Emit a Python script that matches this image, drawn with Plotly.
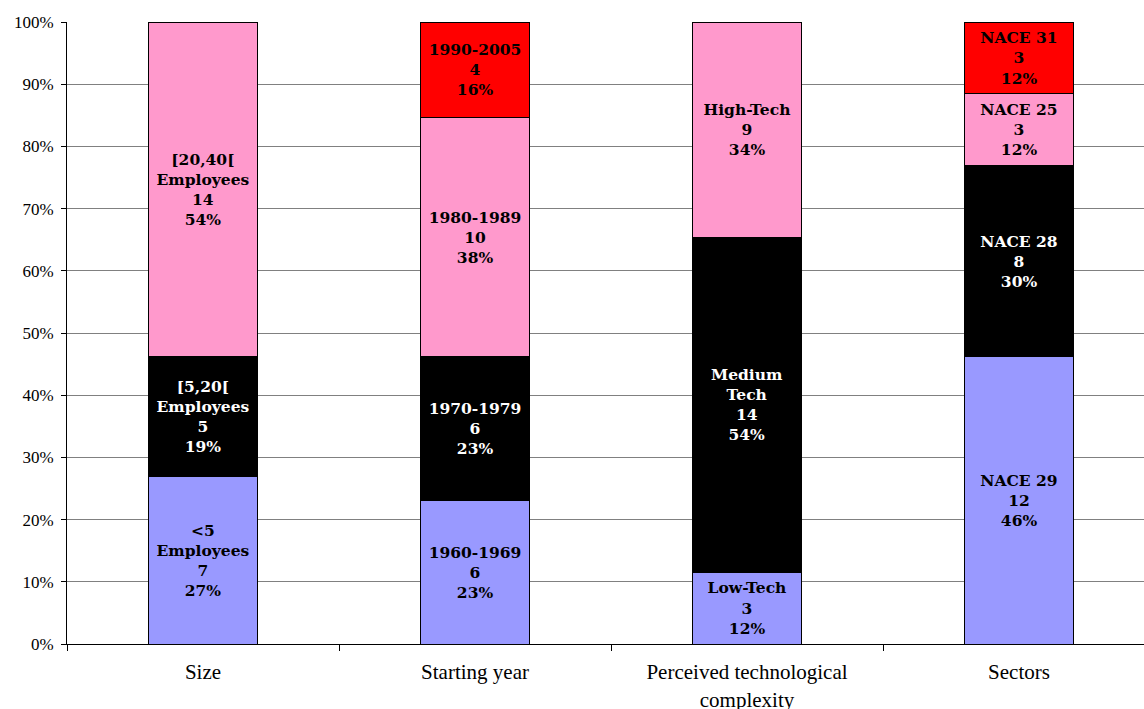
import plotly.graph_objects as go

# Categories on the x axis
categories = ["Size", "Starting year", "Perceived technological<br>complexity", "Sectors"]

# Stack levels, bottom to top (None where a category has no such segment)
level_counts = [
    [7, 6, 3, 12],
    [5, 6, 14, 8],
    [14, 10, 9, 3],
    [None, 4, None, 3],
]
level_names = [
    ["&lt;5<br>Employees", "1960-1969", "Low-Tech", "NACE 29"],
    ["[5,20[<br>Employees", "1970-1979", "Medium<br>Tech", "NACE 28"],
    ["[20,40[<br>Employees", "1980-1989", "High-Tech", "NACE 25"],
    [None, "1990-2005", None, "NACE 31"],
]
level_pct_labels = [
    ["27%", "23%", "12%", "46%"],
    ["19%", "23%", "54%", "30%"],
    ["54%", "38%", "34%", "12%"],
    [None, "16%", None, "12%"],
]
level_colors = ["#9999ff", "#000000", "#ff99cc", "#ff0000"]
level_text_colors = ["#000000", "#ffffff", "#000000", "#000000"]

BOLD_SERIF = "DejaVu Serif"
TICK_SERIF = "Liberation Serif"

fig = go.Figure()
for counts, names, pcts, color, tcolor in zip(
    level_counts, level_names, level_pct_labels, level_colors, level_text_colors
):
    texts = [
        f"{n}<br>{c}<br>{p}" if c is not None else ""
        for n, c, p in zip(names, counts, pcts)
    ]
    fig.add_trace(
        go.Bar(
            x=categories,
            y=counts,
            text=texts,
            textposition="inside",
            insidetextanchor="middle",
            constraintext="none",
            textfont=dict(family=BOLD_SERIF, size=15.5, color=tcolor, weight="bold"),
            marker=dict(color=color, line=dict(color="#000000", width=1)),
            hoverinfo="skip",
            showlegend=False,
        )
    )

fig.update_layout(
    width=1144,
    height=709,
    barmode="stack",
    barnorm="percent",
    bargap=0.6,
    plot_bgcolor="white",
    paper_bgcolor="white",
    margin=dict(l=67, r=0, t=22, b=65),
    font=dict(family=TICK_SERIF, color="#000000"),
)
fig.update_xaxes(
    range=[-0.5, 3.5 - 11 / 272],
    automargin=False,
    tickson="boundaries",
    ticks="outside",
    ticklen=6,
    tickcolor="#000000",
    showline=True,
    linecolor="#000000",
    linewidth=1,
    showgrid=False,
    ticklabelstandoff=9,
    tickfont=dict(family=TICK_SERIF, size=21, color="#000000"),
)
fig.update_yaxes(
    range=[0, 100],
    automargin=False,
    dtick=10,
    ticksuffix="%",
    ticks="outside",
    ticklen=5,
    tickcolor="#000000",
    showline=True,
    linecolor="#000000",
    linewidth=1,
    showgrid=True,
    gridcolor="#808080",
    gridwidth=1,
    zeroline=False,
    ticklabelstandoff=4,
    tickfont=dict(family=TICK_SERIF, size=17, color="#000000"),
)

fig.write_html("out.html")
